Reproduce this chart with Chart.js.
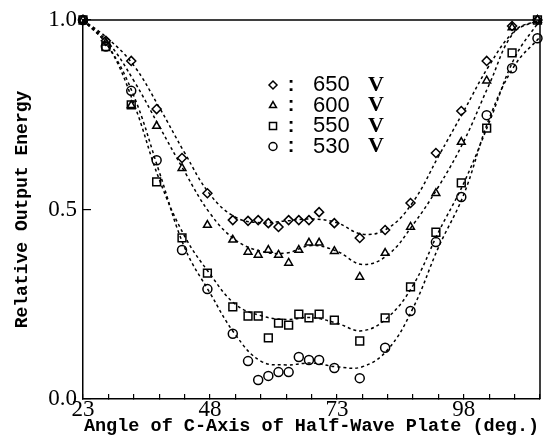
<!DOCTYPE html>
<html>
<head>
<meta charset="utf-8">
<script src="https://cdn.jsdelivr.net/npm/chart.js"></script>
<style>
  html, body { margin: 0; padding: 0; background: #fff; }
  #wrap { width: 553px; height: 439px; }
</style>
</head>
<body>
<div id="wrap"><canvas id="grafico"></canvas></div>
<script>
// angles (deg.) of the measured points
const angles = [23, 27.5, 32.5, 37.5, 42.5, 47.5, 52.5, 55.5, 57.5, 59.5, 61.5, 63.5,
  65.5, 67.5, 69.5, 72.5, 77.5, 82.5, 87.5, 92.5, 97.5, 102.5, 107.5, 112.5];

// measured relative output energy
const energy650 = [1.0, 0.945, 0.892, 0.765, 0.636, 0.543, 0.472, 0.47, 0.472, 0.464, 0.454, 0.472,
  0.472, 0.472, 0.493, 0.464, 0.425, 0.446, 0.517, 0.649, 0.76, 0.892, 0.984, 1.0];
const energy600 = [1.0, 0.94, 0.775, 0.72, 0.609, 0.459, 0.42, 0.388, 0.38, 0.393, 0.38, 0.359,
  0.393, 0.412, 0.412, 0.39, 0.322, 0.385, 0.454, 0.543, 0.678, 0.84, 0.98, 1.0];
const energy550 = [1.0, 0.93, 0.776, 0.573, 0.425, 0.332, 0.243, 0.219, 0.219, 0.161, 0.2, 0.195,
  0.224, 0.214, 0.224, 0.208, 0.153, 0.214, 0.296, 0.44, 0.57, 0.715, 0.913, 1.0];
const energy530 = [1.0, 0.93, 0.813, 0.63, 0.393, 0.29, 0.172, 0.10, 0.05, 0.061, 0.071, 0.071,
  0.111, 0.103, 0.103, 0.082, 0.055, 0.135, 0.232, 0.414, 0.533, 0.749, 0.873, 0.952];

// dashed fitted curves
const fitAngles = [23, 28, 33, 38, 43, 48, 53, 58, 63, 68, 73, 78, 83, 88, 93, 98, 103, 108, 113];
const fit650 = [1.0, 0.95, 0.88, 0.77, 0.65, 0.54, 0.48, 0.465, 0.47, 0.475, 0.465, 0.435, 0.45, 0.52, 0.64, 0.76, 0.88, 0.97, 1.0];
const fit600 = [1.0, 0.94, 0.84, 0.72, 0.60, 0.49, 0.42, 0.39, 0.385, 0.405, 0.39, 0.355, 0.38, 0.46, 0.56, 0.68, 0.83, 0.97, 1.0];
const fit550 = [1.0, 0.93, 0.78, 0.58, 0.43, 0.33, 0.25, 0.22, 0.21, 0.215, 0.2, 0.18, 0.215, 0.3, 0.44, 0.57, 0.73, 0.9, 1.0];
const fit530 = [1.0, 0.93, 0.80, 0.60, 0.40, 0.28, 0.17, 0.10, 0.09, 0.095, 0.085, 0.085, 0.13, 0.24, 0.40, 0.54, 0.74, 0.88, 0.955];

const voltages = ['650', '600', '550', '530'];
const markers = ['rectRot', 'triangle', 'rect', 'circle'];
const pointSets = [energy650, energy600, energy550, energy530];
const fitSets = [fit650, fit600, fit550, fit530];

const datasets = [];
fitSets.forEach((f) => {
  datasets.push({
    type: 'line',
    data: fitAngles.map((a, i) => ({ x: a, y: f[i] })),
    borderColor: '#000',
    borderWidth: 1.5,
    borderDash: [3, 3],
    pointRadius: 0,
    tension: 0.4,
    fill: false,
    clip: false
  });
});
pointSets.forEach((p, k) => {
  datasets.push({
    type: 'scatter',
    data: angles.map((a, i) => ({ x: a, y: p[i] })),
    pointStyle: markers[k],
    pointRadius: markers[k] === 'rect' ? 5.5 : 4.5,
    borderColor: '#000',
    backgroundColor: 'rgba(0,0,0,0)',
    borderWidth: 1.5,
    clip: false
  });
});

// box frame + legend inside the plot
const extras = {
  id: 'extras',
  afterDraw(chart) {
    const { ctx, chartArea: a } = chart;
    ctx.save();
    ctx.strokeStyle = '#000';
    ctx.lineWidth = 1.5;
    ctx.beginPath();
    ctx.moveTo(a.left, a.top);
    ctx.lineTo(a.right, a.top);
    ctx.lineTo(a.right, a.bottom);
    ctx.stroke();

    ctx.textBaseline = 'middle';
    voltages.forEach((v, i) => {
      const y = a.top + 65 + i * 20.5;
      const x = a.left + 190;
      ctx.fillStyle = 'rgba(0,0,0,0)';
      Chart.helpers.drawPoint(ctx, { pointStyle: markers[i], radius: markers[i] === 'rect' ? 5 : 4, borderWidth: 1.3 }, x, y);
      ctx.fillStyle = '#000';
      ctx.font = 'bold 20px "Liberation Sans"';
      ctx.textAlign = 'center';
      ctx.fillText(':', x + 18, y);
      ctx.textAlign = 'left';
      ctx.font = '22px "Liberation Sans"';
      ctx.fillText(v, x + 40, y);
      ctx.font = 'bold 22px "Liberation Serif"';
      ctx.fillText('V', x + 95, y);
    });
    ctx.restore();
  }
};

const ctx = document.getElementById('grafico').getContext('2d');
new Chart(ctx, {
  type: 'scatter',
  data: { datasets },
  plugins: [extras],
  options: {
    responsive: true,
    maintainAspectRatio: false,
    animation: false,
    layout: { padding: { top: 20, right: 13 } },
    plugins: { legend: { display: false }, tooltip: { enabled: false } },
    scales: {
      x: {
        type: 'linear', min: 23, max: 113,
        ticks: {
          stepSize: 5, autoSkip: false, maxRotation: 0, padding: 2, color: '#000',
          font: { family: 'Liberation Serif', size: 23 },
          callback: (v) => ((v - 23) % 25 === 0 ? String(v) : '')
        },
        grid: { drawOnChartArea: false, tickLength: -5, color: '#000', lineWidth: 1.2 },
        border: { color: '#000', width: 1.5 },
        title: {
          display: true, text: 'Angle of C-Axis of Half-Wave Plate (deg.)', color: '#000',
          font: { family: 'Liberation Mono', size: 18.5, weight: 'bold' },
          padding: { top: 0, bottom: 2 }
        },
        afterFit(s) { s.height = 40; s.paddingLeft = 0; s.paddingRight = 0; }
      },
      y: {
        min: 0, max: 1,
        ticks: {
          stepSize: 0.5, padding: 14, color: '#000',
          font: { family: 'Liberation Serif', size: 23 },
          callback: (v) => v.toFixed(1)
        },
        grid: { drawOnChartArea: false, tickLength: -8, color: '#000', lineWidth: 1.2 },
        border: { color: '#000', width: 1.5 },
        title: {
          display: true, text: 'Relative Output Energy', color: '#000',
          font: { family: 'Liberation Mono', size: 18, weight: 'bold' },
          padding: { top: 12, bottom: 0 }
        },
        afterFit(s) { s.width = 83; s.paddingTop = 0; s.paddingBottom = 0; }
      }
    }
  }
});
</script>
</body>
</html>
